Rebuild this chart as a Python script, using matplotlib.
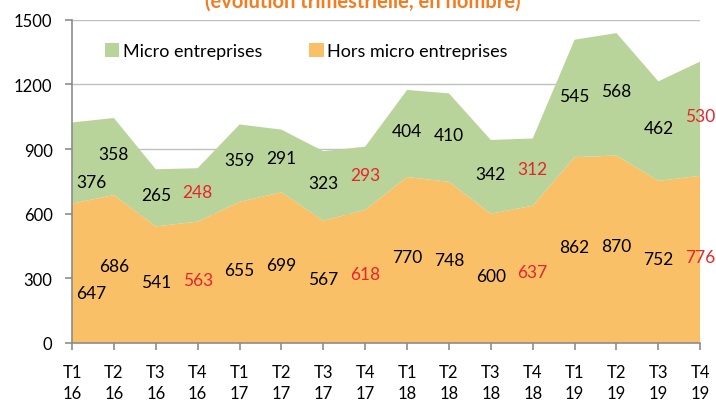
import matplotlib.pyplot as plt
from matplotlib.patches import Patch

plt.rcParams['font.family'] = ['Lato', 'DejaVu Sans']

# quarters T1 2016 .. T4 2019
quarters = ['T1\n16', 'T2\n16', 'T3\n16', 'T4\n16',
            'T1\n17', 'T2\n17', 'T3\n17', 'T4\n17',
            'T1\n18', 'T2\n18', 'T3\n18', 'T4\n18',
            'T1\n19', 'T2\n19', 'T3\n19', 'T4\n19']
hors_micro = [647, 686, 541, 563, 655, 699, 567, 618,
              770, 748, 600, 637, 862, 870, 752, 776]
micro = [376, 358, 265, 248, 359, 291, 323, 293,
         404, 410, 342, 312, 545, 568, 462, 530]
# fourth quarters are written in red
red_label = [q.startswith('T4') for q in quarters]

orange = '#FAC068'
green = '#B8D49A'
grey = '#8C8C8C'

fig = plt.figure(figsize=(7.16, 4.02), dpi=100)
ax = fig.add_axes([0.1006, 0.1443, 0.8774, 0.8042])

x = list(range(len(quarters)))
ax.stackplot(x, hors_micro, micro, colors=[orange, green], zorder=2)

ax.set_xlim(0, len(quarters) - 1)
ax.set_ylim(0, 1500)
ax.set_yticks(range(0, 1501, 300))
ax.set_xticks(x)
ax.set_xticklabels(quarters, linespacing=1.4)

ax.grid(axis='y', color='#C0C0C0', linewidth=1, zorder=0)
ax.set_axisbelow(True)
for side in ['top', 'right']:
    ax.spines[side].set_visible(False)
for side in ['left', 'bottom']:
    ax.spines[side].set_color(grey)
    ax.spines[side].set_linewidth(1.2)
    ax.spines[side].set_zorder(3)
ax.tick_params(axis='both', colors=grey, length=5, width=1.2, labelsize=12,
               labelcolor='black')
ax.tick_params(axis='y', pad=9)
ax.tick_params(axis='x', pad=10)

# data labels in the middle of each band
for i in range(len(quarters)):
    col = '#E8242B' if red_label[i] else 'black'
    ha, dx, dy = 'center', 0, 2
    if i == 0:
        ha, dx, dy = 'left', 3, -14
    for base, val in [(0, hors_micro[i]), (hors_micro[i], micro[i])]:
        ax.annotate(str(val), (i, base + val / 2), xytext=(dx, dy),
                    textcoords='offset points', ha=ha, va='center',
                    fontsize=12.5, color=col, zorder=4, annotation_clip=False)

handles = [Patch(facecolor=green, edgecolor='none'),
           Patch(facecolor=orange, edgecolor='none')]
fig.legend(handles, ['Micro entreprises', 'Hors micro entreprises'],
           loc='center left', bbox_to_anchor=(105 / 716, 1 - 52 / 402), ncol=2,
           frameon=False, fontsize=13, handlelength=0.8, handleheight=0.8,
           handletextpad=0.2, columnspacing=2.6, borderaxespad=0, borderpad=0)

# title cut off at the top of the picture
fig.text(363 / 716, 1 - 8 / 402, '(évolution trimestrielle, en nombre)',
         ha='center', va='baseline', fontsize=14.5, fontweight='bold',
         color='#F47B20')

fig.savefig('out.png', dpi=100)
